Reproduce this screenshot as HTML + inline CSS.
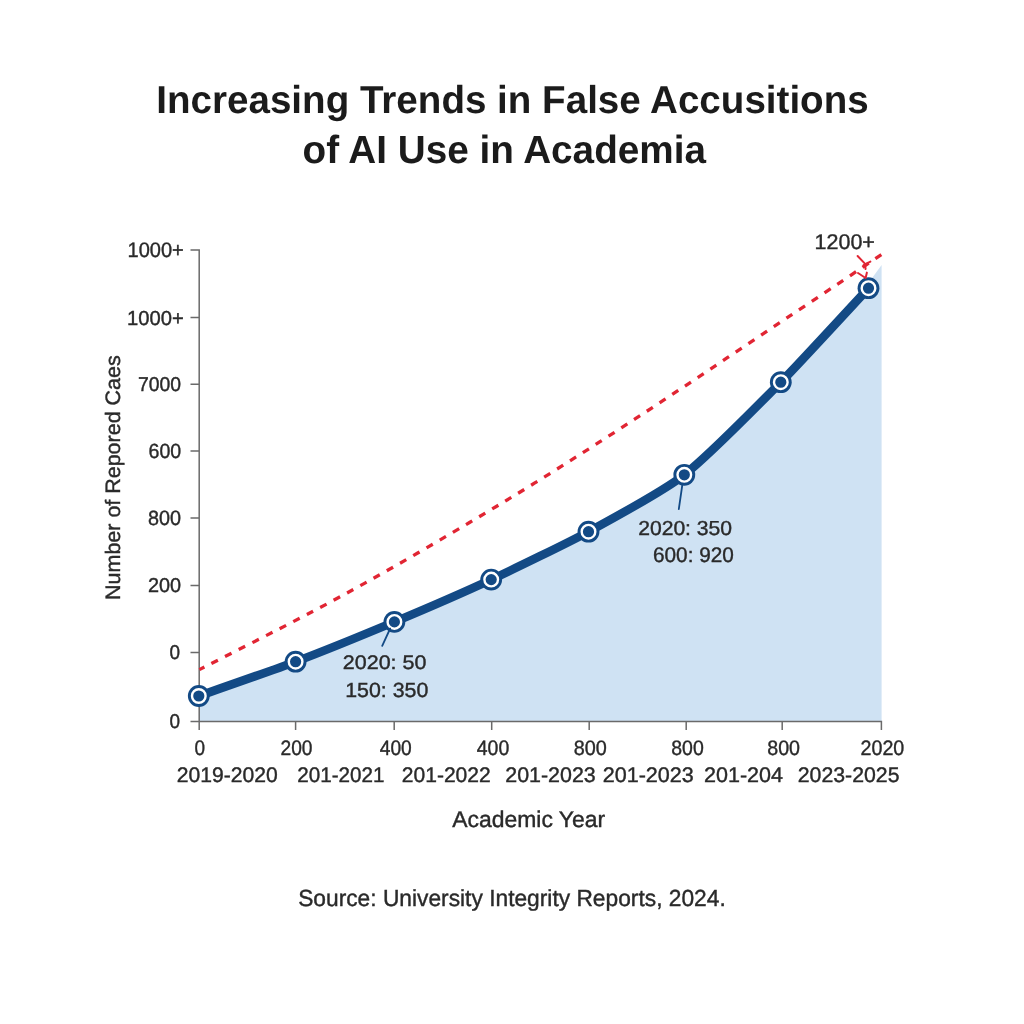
<!DOCTYPE html>
<html lang="en">
<head>
<meta charset="utf-8">
<title>Increasing Trends in False Accusitions of AI Use in Academia</title>
<style>
  html,body{margin:0;padding:0;background:#fff;}
  body{width:1024px;height:1024px;overflow:hidden;}
  svg{display:block;font-family:"Liberation Sans",Arial,sans-serif;will-change:transform;-webkit-font-smoothing:antialiased;text-rendering:geometricPrecision;}
  .b{font-weight:bold;fill:#1b1b1b;}
  .n{fill:#2a2a2a;stroke:#2a2a2a;stroke-width:0.4;}
  .ax{stroke:#6a6a6a;stroke-width:1.5;fill:none;}
</style>
</head>
<body>
<svg width="1024" height="1024" viewBox="0 0 1024 1024">
  <rect width="1024" height="1024" fill="#ffffff"/>
  <!-- area -->
  <path d="M198.8,696.0 C208.5,692.6 276.0,669.1 295.6,661.7 C315.2,654.3 374.8,630.1 394.4,621.9 C414.0,613.7 471.8,588.6 491.2,579.6 C510.6,570.6 569.2,542.2 588.5,531.7 C607.8,521.2 665.1,489.8 684.3,474.8 C703.5,459.9 762.4,400.9 780.8,382.2 C799.2,363.5 859.7,297.6 868.5,288.2 L872.5,277.5 L881.6,265 L881.6,721.5 L199.2,721.5 Z" fill="#cfe2f3"/>
  <!-- axes -->
  <path class="ax" d="M199.2,249.3 V730 M190.5,721.5 H881.4 V730 M190.5,250 H199.2 M190.5,317.5 H199.2 M190.5,384.3 H199.2 M190.5,451 H199.2 M190.5,518 H199.2 M190.5,585.4 H199.2 M190.5,652.6 H199.2 M295.6,721.5 V730 M394.2,721.5 V730 M491.7,721.5 V730 M589.2,721.5 V730 M686.2,721.5 V730 M782.2,721.5 V730"/>
  <!-- trend -->
  <path d="M199.4,669.6 C217.9,660.1 278.4,629.6 310.2,612.8 C342.0,596.0 363.8,583.8 390.3,568.8 C416.9,553.7 445.4,536.8 469.5,522.5 C493.6,508.2 513.5,496.2 535.2,482.7 C557.0,469.2 578.6,455.4 600.0,441.7 C621.4,427.9 642.4,414.2 663.6,400.2 C684.8,386.2 706.2,371.8 727.3,357.7 C748.4,343.6 769.4,329.5 790.3,315.6 C811.2,301.7 837.0,284.5 852.5,274.1 C868.0,263.7 878.3,256.7 883.5,253.2" fill="none" stroke="#e12533" stroke-width="3.3" stroke-dasharray="7.2 8.05" stroke-dashoffset="1.5"/>
  <!-- series -->
  <path d="M198.8,696.0 C208.5,692.6 276.0,669.1 295.6,661.7 C315.2,654.3 374.8,630.1 394.4,621.9 C414.0,613.7 471.8,588.6 491.2,579.6 C510.6,570.6 569.2,542.2 588.5,531.7 C607.8,521.2 665.1,489.8 684.3,474.8 C703.5,459.9 762.4,400.9 780.8,382.2 C799.2,363.5 859.7,297.6 868.5,288.2" fill="none" stroke="#134a85" stroke-width="8.6" stroke-linecap="round" stroke-linejoin="round"/>
  <g>
    <circle cx="198.8" cy="696.0" r="10.9" fill="#134a85"/><circle cx="198.8" cy="696.0" r="6.8" fill="none" stroke="#ffffff" stroke-width="2.4"/>
    <circle cx="295.6" cy="661.7" r="10.9" fill="#134a85"/><circle cx="295.6" cy="661.7" r="6.8" fill="none" stroke="#ffffff" stroke-width="2.4"/>
    <circle cx="394.4" cy="621.9" r="10.9" fill="#134a85"/><circle cx="394.4" cy="621.9" r="6.8" fill="none" stroke="#ffffff" stroke-width="2.4"/>
    <circle cx="491.2" cy="579.6" r="10.9" fill="#134a85"/><circle cx="491.2" cy="579.6" r="6.8" fill="none" stroke="#ffffff" stroke-width="2.4"/>
    <circle cx="588.5" cy="531.7" r="10.9" fill="#134a85"/><circle cx="588.5" cy="531.7" r="6.8" fill="none" stroke="#ffffff" stroke-width="2.4"/>
    <circle cx="684.3" cy="474.8" r="10.9" fill="#134a85"/><circle cx="684.3" cy="474.8" r="6.8" fill="none" stroke="#ffffff" stroke-width="2.4"/>
    <circle cx="780.8" cy="382.2" r="10.9" fill="#134a85"/><circle cx="780.8" cy="382.2" r="6.8" fill="none" stroke="#ffffff" stroke-width="2.4"/>
    <circle cx="868.5" cy="288.2" r="10.9" fill="#134a85"/><circle cx="868.5" cy="288.2" r="6.8" fill="none" stroke="#ffffff" stroke-width="2.4"/>
  </g>
  <path d="M390.2,628.5 L382.2,645.8 M682.3,485 L678.8,509.2" stroke="#134a85" stroke-width="1.8" stroke-linecap="round" fill="none"/>
  <path d="M857.6,256 L864.9,263.6 L865.6,269 M863.6,265.2 L870.4,261.6 M858,273 L865.6,278 L866.9,272.6" stroke="#e12533" stroke-width="2" stroke-linecap="round" stroke-linejoin="round" fill="none"/>
  <!-- text -->
  <text id="t1" class="b" x="156.25" y="113.10" font-size="38.88" textLength="712.46" lengthAdjust="spacingAndGlyphs">Increasing Trends in False Accusitions</text>
  <text id="t2" class="b" x="302.50" y="162.85" font-size="39.22" textLength="403.46" lengthAdjust="spacingAndGlyphs">of AI Use in Academia</text>
  <text id="y1" class="n" x="127.50" y="257.00" font-size="20.95" textLength="56.25" lengthAdjust="spacingAndGlyphs">1000+</text>
  <text id="y2" class="n" x="126.95" y="324.60" font-size="20.27" textLength="56.77" lengthAdjust="spacingAndGlyphs">1000+</text>
  <text id="y3" class="n" x="138.00" y="390.90" font-size="20.03" textLength="43.11" lengthAdjust="spacingAndGlyphs">7000</text>
  <text id="y4" class="n" x="148.50" y="458.00" font-size="20.51" textLength="32.64" lengthAdjust="spacingAndGlyphs">600</text>
  <text id="y5" class="n" x="148.00" y="524.80" font-size="20.61" textLength="33.03" lengthAdjust="spacingAndGlyphs">800</text>
  <text id="y6" class="n" x="148.00" y="592.40" font-size="20.03" textLength="33.15" lengthAdjust="spacingAndGlyphs">200</text>
  <text id="y7" class="n" x="169.50" y="659.40" font-size="20.03" textLength="10.56" lengthAdjust="spacingAndGlyphs">0</text>
  <text id="y8" class="n" x="169.50" y="728.00" font-size="20.03" textLength="10.56" lengthAdjust="spacingAndGlyphs">0</text>
  <text id="x1" class="n" x="194.50" y="754.50" font-size="20.98" textLength="10.56" lengthAdjust="spacingAndGlyphs">0</text>
  <text id="x2" class="n" x="280.50" y="754.50" font-size="20.97" textLength="32.03" lengthAdjust="spacingAndGlyphs">200</text>
  <text id="x3" class="n" x="379.75" y="754.50" font-size="20.98" textLength="32.01" lengthAdjust="spacingAndGlyphs">400</text>
  <text id="x4" class="n" x="476.75" y="754.50" font-size="20.98" textLength="32.52" lengthAdjust="spacingAndGlyphs">400</text>
  <text id="x5" class="n" x="573.75" y="754.50" font-size="20.95" textLength="33.06" lengthAdjust="spacingAndGlyphs">800</text>
  <text id="x6" class="n" x="671.25" y="754.50" font-size="20.95" textLength="32.48" lengthAdjust="spacingAndGlyphs">800</text>
  <text id="x7" class="n" x="767.25" y="754.50" font-size="20.95" textLength="32.79" lengthAdjust="spacingAndGlyphs">800</text>
  <text id="x8" class="n" x="860.50" y="754.50" font-size="20.97" textLength="43.77" lengthAdjust="spacingAndGlyphs">2020</text>
  <text id="r1" class="n" x="176.75" y="781.75" font-size="21.04" textLength="100.99" lengthAdjust="spacingAndGlyphs">2019-2020</text>
  <text id="r2" class="n" x="297.25" y="781.75" font-size="21.04" textLength="87.22" lengthAdjust="spacingAndGlyphs">201-2021</text>
  <text id="r3" class="n" x="401.75" y="781.75" font-size="21.04" textLength="89.01" lengthAdjust="spacingAndGlyphs">201-2022</text>
  <text id="r4" class="n" x="505.25" y="781.75" font-size="21.04" textLength="90.51" lengthAdjust="spacingAndGlyphs">201-2023</text>
  <text id="r5" class="n" x="602.75" y="781.75" font-size="21.04" textLength="91.06" lengthAdjust="spacingAndGlyphs">201-2023</text>
  <text id="r6" class="n" x="704.00" y="781.75" font-size="21.04" textLength="78.99" lengthAdjust="spacingAndGlyphs">201-204</text>
  <text id="r7" class="n" x="797.75" y="781.75" font-size="21.04" textLength="101.78" lengthAdjust="spacingAndGlyphs">2023-2025</text>
  <text id="ax" class="n" x="452.25" y="827.25" font-size="22.72" textLength="152.91" lengthAdjust="spacingAndGlyphs">Academic Year</text>
  <text id="src" class="n" x="298.15" y="905.65" font-size="23.24" textLength="427.60" lengthAdjust="spacingAndGlyphs">Source: University Integrity Reports, 2024.</text>
  <text id="a1" class="n" x="342.85" y="669.45" font-size="19.60" textLength="83.61" lengthAdjust="spacingAndGlyphs">2020: 50</text>
  <text id="a2" class="n" x="345.20" y="697.45" font-size="20.49" textLength="83.07" lengthAdjust="spacingAndGlyphs">150: 350</text>
  <text id="a3" class="n" x="638.15" y="534.65" font-size="20.23" textLength="93.96" lengthAdjust="spacingAndGlyphs">2020: 350</text>
  <text id="a4" class="n" x="653.00" y="562.15" font-size="21.03" textLength="80.91" lengthAdjust="spacingAndGlyphs">600: 920</text>
  <text id="a5" class="n" x="814.60" y="249.15" font-size="21.28" textLength="60.32" lengthAdjust="spacingAndGlyphs">1200+</text>
  <text id="yt" class="n" transform="translate(119.65,599.90) rotate(-90)" font-size="20.89" textLength="244.54" lengthAdjust="spacingAndGlyphs">Number of Repored Caes</text>
</svg>
</body>
</html>
